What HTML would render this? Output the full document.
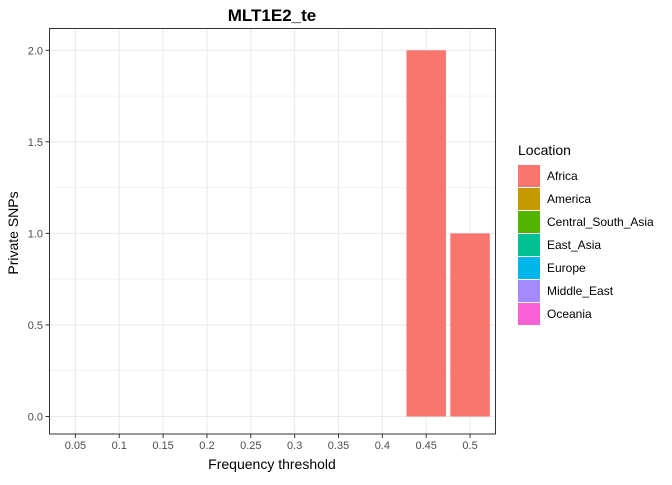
<!DOCTYPE html>
<html><head><meta charset="utf-8">
<style>
body{margin:0;background:#fff;font-family:"Liberation Sans",sans-serif;}
svg text{font-family:"Liberation Sans",sans-serif;}
</style></head>
<body>
<svg id="chart" width="672" height="480" xmlns="http://www.w3.org/2000/svg">
<rect width="672" height="480" fill="#fff"/>
<text x="272" y="21" text-anchor="middle" font-size="17" font-weight="bold" fill="#000">MLT1E2_te</text>
<g id="grid"></g>
<g id="bars"></g>
<rect x="49.5" y="28.5" width="446" height="405.5" fill="none" stroke="#333" stroke-width="1"/>
<g id="axes"></g>
<text x="272" y="469" text-anchor="middle" font-size="14" fill="#000">Frequency threshold</text>
<text transform="translate(18,233) rotate(-90)" text-anchor="middle" font-size="14" fill="#000">Private SNPs</text>
<g id="legend">
<text x="518" y="155" font-size="14" fill="#000">Location</text>
</g>
</svg>
<script>
const categories=["0.05","0.1","0.15","0.2","0.25","0.3","0.35","0.4","0.45","0.5"];
const values=[0,0,0,0,0,0,0,0,2,1];
const yTicks=[0,0.5,1,1.5,2];
const yTickLabels=["0.0","0.5","1.0","1.5","2.0"];
const locations=["Africa","America","Central_South_Asia","East_Asia","Europe","Middle_East","Oceania"];
const locColors=["#F8766D","#C49A00","#53B400","#00C094","#00B6EB","#A58AFF","#FB61D7"];

const NS="http://www.w3.org/2000/svg";
const x0=75.4, step=43.85, y0=416.5, yScale=183.1;
const xPos=i=>x0+i*step;
const yPos=v=>y0-v*yScale;
function mk(tag,attrs,parent){const e=document.createElementNS(NS,tag);for(const k in attrs)e.setAttribute(k,attrs[k]);parent.appendChild(e);return e;}
const grid=document.getElementById('grid'),bars=document.getElementById('bars'),axes=document.getElementById('axes'),legend=document.getElementById('legend');
for(let i=0;i<yTicks.length-1;i++){
  const m=(yTicks[i]+yTicks[i+1])/2;
  const l=mk('line',{x1:49.5,x2:495.5,y1:yPos(m),y2:yPos(m),stroke:'#ebebeb','stroke-width':0.6},grid);
  
  
}
yTicks.forEach((t,i)=>{
  const l=mk('line',{x1:49.5,x2:495.5,y1:yPos(t),y2:yPos(t),stroke:'#ebebeb','stroke-width':1.1},grid);
  
  
  const tk=mk('line',{x1:45.5,x2:49.5,y1:yPos(t),y2:yPos(t),stroke:'#333','stroke-width':1},axes);
  
  
  const tx=mk('text',{x:43,y:yPos(t)+4,'text-anchor':'end','font-size':11,fill:'#4d4d4d'},axes);
  tx.textContent=yTickLabels[i];
  
  
});
categories.forEach((c,i)=>{
  const l=mk('line',{x1:xPos(i),x2:xPos(i),y1:28.5,y2:434,stroke:'#ebebeb','stroke-width':1.1},grid);
  
  
  const tk=mk('line',{x1:xPos(i),x2:xPos(i),y1:434,y2:438,stroke:'#333','stroke-width':1},axes);
  
  
  const tx=mk('text',{x:xPos(i),y:449,'text-anchor':'middle','font-size':11,fill:'#4d4d4d'},axes);
  tx.textContent=c;
  
  
  if(values[i]>0){
    const w=step*0.9;
    const b=mk('rect',{x:xPos(i)-w/2,y:yPos(values[i]),width:w,height:yPos(0)-yPos(values[i]),fill:locColors[0]},bars);
    
    
  }
});
locations.forEach((n,i)=>{
  const y=165+i*23;
  const r=mk('rect',{x:518,y:y,width:22,height:22,fill:locColors[i]},legend);
  
  
  const t=mk('text',{x:547,y:y+15,'font-size':12,fill:'#000'},legend);
  t.textContent=n;
  
  
});
</script>
</body></html>
